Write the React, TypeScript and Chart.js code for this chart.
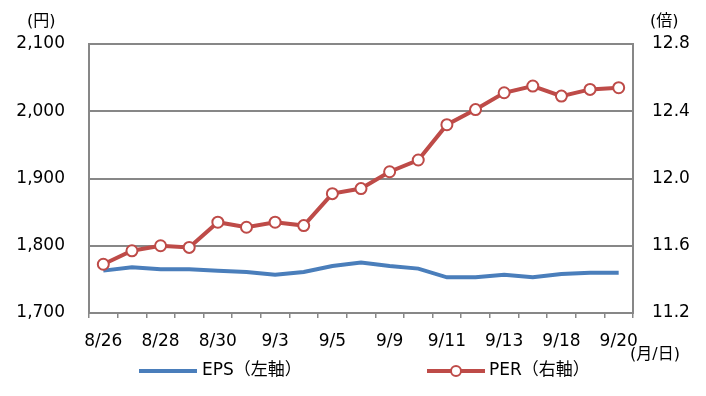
import React, { useEffect, useRef } from "react";
import { Chart, registerables } from "chart.js";

Chart.register(...registerables);

const dates = ["8/26","8/27","8/28","8/29","8/30","9/2","9/3","9/4","9/5","9/6","9/9","9/10","9/11","9/12","9/13","9/17","9/18","9/19","9/20"];
const epsValues = [1763,1768,1765,1765,1763,1761,1757,1761,1770,1775,1770,1766,1753,1753,1757,1753,1758,1760,1760];
const perValues = [11.49,11.57,11.60,11.59,11.74,11.71,11.74,11.72,11.91,11.94,12.04,12.11,12.32,12.41,12.51,12.55,12.49,12.53,12.54];
const leftTicks = [1700,1800,1900,2000,2100];
const rightTicks = [11.2,11.6,12.0,12.4,12.8];

const FONT = '"DejaVu Sans", "Noto Sans CJK JP", sans-serif';
const GRID = "#878787";
const BLUE = "#4a7ebb";
const RED = "#be4b48";

const overlay = {
  id: "overlay",
  afterDraw(chart: any) {
    const ctx = chart.ctx;
    ctx.save();
    ctx.fillStyle = "#000";
    ctx.textBaseline = "middle";
    ctx.font = `16px ${FONT}`;
    ctx.textAlign = "left";
    ctx.fillText("(円)", 27, 22);
    ctx.fillText("(倍)", 650, 22);
    ctx.fillText("(月/日)", 630, 355);
    // legend
    ctx.lineWidth = 4;
    ctx.strokeStyle = BLUE;
    ctx.beginPath();
    ctx.moveTo(139, 371);
    ctx.lineTo(197, 371);
    ctx.stroke();
    ctx.strokeStyle = RED;
    ctx.beginPath();
    ctx.moveTo(427, 371);
    ctx.lineTo(485, 371);
    ctx.stroke();
    ctx.lineWidth = 2;
    ctx.fillStyle = "#fff";
    ctx.beginPath();
    ctx.arc(456, 371, 5, 0, Math.PI * 2);
    ctx.fill();
    ctx.stroke();
    ctx.fillStyle = "#000";
    ctx.font = `17px ${FONT}`;
    ctx.fillText("EPS（左軸）", 202, 371);
    ctx.fillText("PER（右軸）", 489, 371);
    ctx.restore();
  },
};

export default function App() {
  const ref = useRef<HTMLCanvasElement>(null);
  useEffect(() => {
    if (!ref.current) return;
    const chart = new Chart(ref.current, {
      type: "line",
      data: {
        labels: dates,
        datasets: [
          {
            label: "EPS（左軸）",
            data: epsValues,
            yAxisID: "y",
            borderColor: BLUE,
            borderWidth: 4,
            pointRadius: 0,
            tension: 0,
            order: 2,
          },
          {
            label: "PER（右軸）",
            data: perValues,
            yAxisID: "y1",
            borderColor: RED,
            borderWidth: 4,
            pointRadius: 5.5,
            pointBorderWidth: 2,
            pointBackgroundColor: "#fff",
            pointBorderColor: RED,
            tension: 0,
            order: 1,
          },
        ],
      },
      options: {
        responsive: false,
        animation: false,
        layout: { padding: { top: 44, left: 0, right: 0, bottom: 0 } },
        plugins: { legend: { display: false }, tooltip: { enabled: false } },
        scales: {
          x: {
            offset: true,
            grid: {
              offset: true,
              drawOnChartArea: false,
              drawTicks: true,
              tickLength: 5,
              color: GRID,
              lineWidth: 1.5,
            },
            border: { display: true, color: GRID, width: 2 },
            ticks: {
              autoSkip: false,
              maxRotation: 0,
              padding: 13,
              color: "#000",
              font: { family: FONT, size: 17 },
              callback: (_v: any, i: number) => (i % 2 === 0 ? dates[i] : ""),
            },
            afterFit: (s: any) => {
              s.height = 83;
            },
          },
          y: {
            position: "left",
            min: leftTicks[0],
            max: leftTicks[leftTicks.length - 1],
            afterBuildTicks: (s: any) => {
              s.ticks = leftTicks.map((v) => ({ value: v }));
            },
            grid: { color: GRID, lineWidth: 2, drawTicks: false },
            border: { display: true, color: GRID, width: 2 },
            ticks: {
              padding: 24,
              color: "#000",
              font: { family: FONT, size: 17 },
              callback: (v: any) => Number(v).toLocaleString("en-US"),
            },
            afterFit: (s: any) => {
              s.width = 89;
            },
          },
          y1: {
            position: "right",
            min: rightTicks[0],
            max: rightTicks[rightTicks.length - 1],
            afterBuildTicks: (s: any) => {
              s.ticks = rightTicks.map((v) => ({ value: v }));
            },
            grid: { drawOnChartArea: false, drawTicks: false },
            border: { display: true, color: GRID, width: 2 },
            ticks: {
              padding: 19,
              color: "#000",
              font: { family: FONT, size: 17 },
              callback: (v: any) => Number(v).toFixed(1),
            },
            afterFit: (s: any) => {
              s.width = 73;
            },
          },
        },
      },
      plugins: [overlay],
    });
    return () => chart.destroy();
  }, []);
  return (
    <div style={{ position: "absolute", left: 0, top: 0, width: 706, height: 396, background: "#fff" }}>
      <canvas ref={ref} width={706} height={396} style={{ display: "block" }} />
    </div>
  );
}
